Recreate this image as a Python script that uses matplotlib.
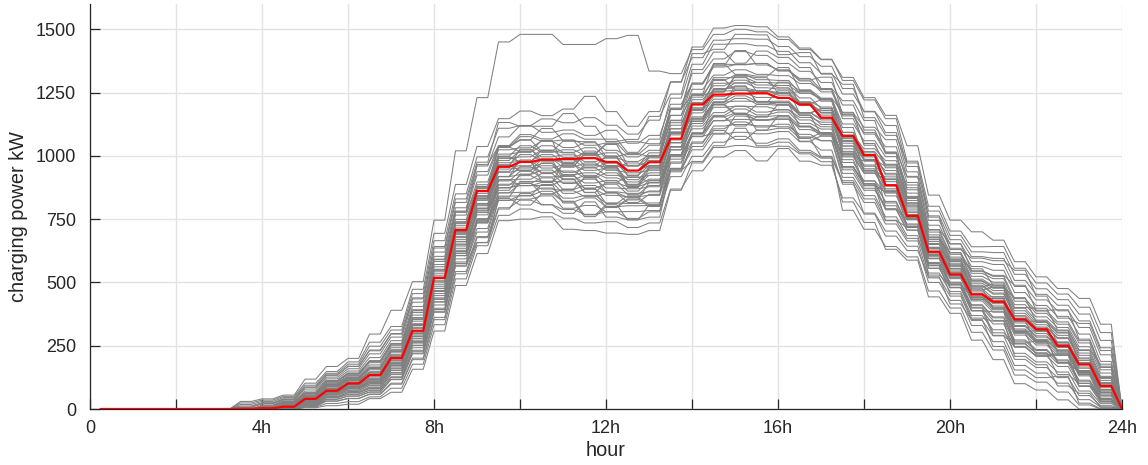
import numpy as np
import matplotlib
matplotlib.use("Agg")
import matplotlib.pyplot as plt

plt.rcParams['font.family'] = ['Liberation Sans', 'DejaVu Sans']

# half-hour slots 0:00 ... 23:30 (48 values each), charging power in kW
mean_kw = [0, 0, 0, 0, 0, 0, 0, 1, 3, 9, 40, 72, 101, 134, 201, 309, 518, 707, 861, 957,
           976, 985, 988, 991, 976, 942, 975, 1068, 1203, 1242, 1246, 1247, 1229, 1203, 1151, 1079,
           1003, 884, 763, 621, 532, 453, 424, 354, 315, 250, 176, 91]

scen_outlier = [0, 0, 0, 0, 0, 0, 0, 30, 40, 55, 118, 168, 200, 296, 390, 503, 746, 1020, 1230, 1450,
                1480, 1480, 1440, 1440, 1463, 1476, 1335, 1325, 1420, 1480, 1500, 1490, 1460, 1420, 1380, 1310,
                1230, 1160, 1040, 845, 746, 700, 667, 582, 522, 476, 437, 335]
scen01 = [0,0,0,0,0,0,0,24,35,50,102,148,186,264,326,473,694,887,1037,1147,1177,1159,1185,1235,1175,1117,1175,1293,1388,1457,1463,1461,1432,1392,1354,1266,1174,1092,937,763,669,602,595,508,453,410,348,242]
scen02 = [0,0,0,0,0,0,0,18,30,45,94,141,177,248,312,456,665,850,996,1109,1120,1146,1131,1151,1121,1086,1141,1291,1430,1505,1515,1510,1470,1426,1382,1298,1221,1147,979,801,703,641,642,556,498,454,402,302]
scen03 = [0,0,0,0,0,0,0,12,25,40,86,133,168,233,298,439,636,816,960,1075,1120,1093,1102,1081,1101,1050,1081,1204,1284,1351,1360,1365,1336,1296,1253,1158,1092,1036,895,726,635,563,548,460,409,366,296,188]
scen04 = [0,0,0,0,0,0,0,6,20,36,79,126,159,218,284,422,620,795,938,1041,1084,1067,1087,1066,1066,1014,1066,1228,1362,1441,1443,1435,1413,1368,1326,1244,1176,1120,958,782,686,621,618,532,475,432,375,271]
scen05 = [0,0,0,0,0,0,0,0,15,32,71,119,150,203,270,405,603,782,924,1033,1076,1058,1063,1042,1051,1005,1042,1160,1232,1309,1309,1290,1288,1258,1216,1093,1012,925,811,650,566,485,454,364,320,278,198,101]
scen06 = [0,0,0,0,0,0,0,0,10,27,64,112,141,188,256,388,583,766,897,1024,1032,1058,1033,1052,1022,996,1022,1189,1326,1383,1412,1397,1365,1334,1290,1201,1102,1009,874,707,617,544,524,436,387,344,270,164]
scen07 = [0,0,0,0,0,0,0,0,8,25,62,109,137,183,250,381,571,749,879,1007,1014,1040,1014,1032,992,978,1002,1131,1206,1261,1288,1269,1264,1214,1193,1082,1028,981,853,688,600,524,501,412,364,322,246,142]
scen08 = [0,0,0,0,0,0,0,0,5,22,58,104,132,174,242,371,562,740,870,999,1040,1014,1024,1002,1012,960,1012,1160,1284,1362,1361,1365,1336,1306,1262,1147,1049,953,832,669,583,505,477,388,342,300,221,121]
scen09 = [0,0,0,0,0,0,0,0,2,20,54,100,127,166,234,361,550,732,861,990,996,1023,994,1012,972,960,982,1107,1180,1234,1258,1248,1230,1200,1161,1050,959,870,769,613,532,447,407,316,275,234,152,68]
scen10 = [0,0,0,0,0,0,0,0,0,18,51,97,123,160,228,354,542,724,852,982,1023,996,1004,977,992,942,992,1141,1263,1319,1340,1322,1317,1286,1262,1169,1113,1064,916,745,652,582,571,484,431,388,322,214]
scen11 = [0,0,0,0,0,0,0,0,0,16,49,94,119,155,222,347,534,715,843,973,979,1005,975,992,962,942,962,1121,1242,1298,1319,1301,1298,1248,1225,1093,1002,898,790,632,549,466,430,340,298,256,175,84]
scen12 = [0,0,0,0,0,0,0,0,0,14,45,90,114,147,214,337,526,707,834,965,1005,979,984,953,972,924,962,1083,1154,1213,1237,1215,1216,1171,1147,1039,986,942,824,662,576,497,468,378,333,291,212,113]
scen13 = [0,0,0,0,0,0,0,0,0,12,43,87,110,142,208,330,517,698,825,956,961,988,955,972,943,933,943,1107,1222,1277,1299,1280,1278,1248,1225,1126,1060,997,866,699,611,536,515,426,378,335,261,155]
scen14 = [0,0,0,0,0,0,0,0,0,9,40,82,105,134,200,320,505,690,825,939,979,952,965,943,952,906,952,1092,1190,1266,1268,1258,1240,1210,1170,1039,943,842,748,594,515,427,383,292,253,212,131,54]
scen15 = [0,0,0,0,0,0,0,0,0,8,39,81,103,132,197,317,501,682,807,948,952,970,935,953,923,915,923,1053,1128,1192,1196,1194,1182,1152,1133,1018,964,909,798,639,556,474,439,350,306,265,184,91]
scen16 = [0,0,0,0,0,0,0,0,0,6,36,78,100,127,192,310,493,677,803,935,944,961,926,933,913,897,933,1092,1211,1287,1288,1290,1269,1229,1188,1072,986,886,782,624,542,458,421,330,289,247,166,77]
scen17 = [0,0,0,0,0,0,0,0,0,4,34,75,96,122,186,303,485,669,812,918,957,935,940,913,933,888,923,1068,1170,1224,1247,1231,1230,1200,1179,1077,1017,964,840,677,590,513,486,398,351,309,231,129]
scen18 = [0,0,0,0,0,0,0,0,0,3,32,72,92,117,180,296,476,661,785,918,926,944,906,923,893,879,893,1024,1107,1160,1185,1162,1173,1128,1106,974,901,814,727,575,498,408,360,268,231,190,110,41]
scen19 = [0,0,0,0,0,0,0,0,0,1,30,69,89,112,175,289,468,652,794,901,939,917,921,893,903,861,903,1063,1180,1256,1258,1258,1250,1210,1170,1061,996,931,815,654,570,489,458,369,324,282,202,105]
scen20 = [0,0,0,0,0,0,0,0,0,0,29,68,87,110,172,286,464,644,767,905,908,930,891,908,873,870,878,1034,1149,1203,1227,1205,1211,1162,1124,985,890,787,706,556,481,388,336,244,209,168,90,30]
scen21 = [0,0,0,0,0,0,0,0,0,0,27,65,83,105,166,279,456,635,776,884,922,900,896,873,888,848,883,1005,1076,1139,1144,1141,1144,1114,1078,953,901,853,756,601,522,435,392,302,262,221,139,59]
scen22 = [0,0,0,0,0,0,0,0,0,0,25,62,80,100,161,272,448,627,749,888,891,913,867,883,858,852,858,1024,1138,1213,1216,1215,1202,1171,1142,1028,949,881,777,620,539,454,416,326,284,243,161,74]
scen23 = [0,0,0,0,0,0,0,0,0,0,23,58,74,94,152,262,435,614,735,875,882,895,852,868,844,839,844,976,1055,1107,1134,1114,1125,1075,1060,915,843,759,685,537,464,369,313,220,186,146,71,21]
scen24 = [0,0,0,0,0,0,0,0,0,0,20,54,69,87,144,252,423,606,744,854,891,869,862,839,853,816,848,1005,1118,1171,1196,1173,1182,1142,1115,996,933,864,765,609,528,443,402,311,271,230,148,65]
scen25 = [0,0,0,0,0,0,0,0,0,0,18,49,64,81,136,242,411,593,713,854,856,873,833,844,814,812,814,947,1024,1086,1093,1087,1096,1056,1023,888,816,731,664,518,446,350,289,196,164,124,53,13]
scen26 = [0,0,0,0,0,0,0,0,0,0,16,45,58,75,127,232,398,581,699,841,842,860,818,834,799,803,804,971,1086,1139,1165,1141,1154,1104,1087,958,890,820,731,579,501,412,364,273,235,194,114,43]
scen27 = [0,0,0,0,0,0,0,0,0,0,13,39,51,67,116,218,382,564,681,824,829,842,793,804,779,780,784,918,998,1054,1077,1050,1067,1022,995,785,710,642,601,466,399,303,233,134,106,67,16,0]
scen28 = [0,0,0,0,0,0,0,0,0,0,10,32,42,59,102,201,362,543,677,795,825,807,788,769,779,753,779,937,1050,1118,1124,1119,1115,1085,1060,931,864,803,719,567,491,400,350,258,222,181,102,36]
scen29 = [0,0,0,0,0,0,0,0,0,0,7,22,29,48,82,177,333,514,645,765,790,776,754,735,740,717,735,869,941,996,1021,980,1029,979,963,834,774,703,643,500,429,330,266,172,142,102,37,8]
scen30 = [0,0,0,0,0,0,0,0,0,0,5,13,19,41,66,157,308,488,614,744,750,759,710,705,695,690,705,864,972,1033,1041,1034,1038,1008,977,818,737,631,588,443,378,272,195,100,75,36,0,0]
scen31 = [0,0,0,0,0,0,0,0,0,2,36,76,96,119,183,298,477,661,839,919,984,896,970,918,957,884,908,1000,1091,1155,1118,1156,1159,1071,1092,958,885,858,761,569,527,440,444,307,267,182,144,64]
scen32 = [0,0,0,0,0,0,0,0,2,20,48,94,121,160,228,355,548,734,873,1035,1017,1061,959,1006,1045,963,996,1183,1288,1356,1416,1359,1340,1300,1311,1163,1086,1014,834,671,618,507,480,440,345,303,178,123]
scen33 = [0,0,0,0,0,0,0,0,0,0,30,64,81,100,158,267,439,622,752,837,899,899,924,871,812,842,861,1003,1146,1211,1276,1213,1210,1170,1187,1015,941,917,806,609,564,482,494,358,314,229,192,99]
scen34 = [0,0,0,0,0,0,0,0,12,29,64,111,142,191,259,392,592,779,966,1038,1064,1108,1060,1009,1048,1056,1048,1186,1239,1253,1316,1309,1247,1255,1222,1112,983,906,753,636,519,432,436,299,214,218,136,31]
scen35 = [0,0,0,0,0,0,0,0,0,0,17,45,58,74,125,228,393,575,657,832,806,850,821,767,807,747,807,950,1037,1100,1065,1101,1109,1069,998,902,830,745,717,529,490,399,301,257,220,136,101,37]
scen36 = [0,0,0,0,0,0,0,0,0,11,38,81,105,135,202,323,509,694,830,995,975,931,961,1008,948,875,948,1088,1186,1252,1315,1254,1246,1206,1221,1057,982,960,836,635,586,470,482,346,347,261,180,125]
scen37 = [0,0,0,0,0,0,0,8,22,38,87,135,169,230,296,435,642,830,975,1132,1117,1117,1167,1117,1057,1065,1156,1244,1404,1421,1480,1478,1400,1408,1323,1283,1151,1081,972,758,630,596,586,548,446,359,338,231]
scen38 = [0,0,0,0,0,0,0,0,0,2,24,64,84,107,171,286,465,649,782,864,928,972,909,856,896,917,896,1037,1183,1302,1261,1251,1291,1203,1172,1000,979,791,707,594,480,389,291,247,210,214,91,27]
scen39 = [0,0,0,0,0,0,0,0,0,0,13,31,41,58,98,195,353,534,658,790,851,807,773,818,758,748,758,951,1090,1154,1169,1102,1158,1118,1091,957,884,857,802,605,526,478,396,306,310,225,143,95]
scen40 = [0,0,0,0,0,0,0,0,2,20,52,98,125,164,232,359,552,738,832,997,977,1021,1012,960,1000,922,1000,1139,1136,1201,1163,1203,1200,1160,1085,1005,931,907,754,637,554,433,437,348,260,263,137,89]
scen41 = [0,0,0,0,0,0,0,0,0,0,24,58,75,94,152,261,433,616,791,873,893,849,869,915,855,836,806,997,1088,1205,1167,1153,1204,1116,1089,1009,882,744,674,566,455,359,347,208,175,91,62,7]
scen42 = [0,0,0,0,0,0,0,0,12,29,62,109,140,189,257,390,590,777,874,1036,1062,1018,1058,1056,997,1009,997,1184,1341,1410,1366,1414,1389,1349,1266,1218,1140,1015,919,709,653,546,528,489,390,392,276,169]
scen43 = [0,0,0,0,0,0,0,0,0,11,49,92,116,146,213,334,520,705,886,963,942,986,972,1019,959,886,959,1051,1145,1263,1275,1212,1257,1169,1186,1068,940,860,721,608,494,442,399,261,269,184,146,41]
scen44 = [0,0,0,0,0,0,0,0,0,0,10,38,51,67,118,221,386,568,740,825,843,887,814,760,800,830,800,943,978,1040,1109,1040,1054,1014,991,895,770,683,626,522,415,353,247,154,124,129,23,1]
scen45 = [0,0,0,0,0,0,0,0,0,11,45,88,112,142,209,330,516,701,792,959,1026,982,919,965,955,972,955,1095,1245,1365,1322,1315,1349,1261,1228,1172,1042,967,885,680,593,554,489,401,398,312,234,177]
scen46 = [0,0,0,0,0,0,0,0,0,0,14,48,65,84,142,251,423,606,736,906,883,883,908,855,796,826,895,987,1078,1089,1157,1143,1146,1058,1079,945,872,790,748,556,479,388,384,246,209,213,90,51]

x_ticks = [0, 2, 4, 6, 8, 10, 12, 14, 16, 18, 20, 22, 24]
x_tick_labels = ['0', '', '4h', '', '8h', '', '12h', '', '16h', '', '20h', '', '24h']
y_ticks = [0, 250, 500, 750, 1000, 1250, 1500]

scenarios = [scen_outlier, scen01, scen02, scen03, scen04, scen05, scen06, scen07, scen08, scen09, scen10,
             scen11, scen12, scen13, scen14, scen15, scen16, scen17, scen18, scen19, scen20,
             scen21, scen22, scen23, scen24, scen25, scen26, scen27, scen28, scen29, scen30,
             scen31, scen32, scen33, scen34, scen35, scen36, scen37, scen38, scen39, scen40,
             scen41, scen42, scen43, scen44, scen45, scen46]
for s in scenarios:
    assert len(s) == 48, len(s)
assert len(mean_kw) == 48

# each half-hour value is held for 15 min, then ramps to the next; profile ends at 0 at 24h
t = 0.25 * np.arange(1, 97)


def profile(vals):
    v = np.repeat(np.asarray(vals, dtype=float), 2)[1:]
    return np.append(v, 0.0)


W, H = 1148, 465
fig = plt.figure(figsize=(W / 100, H / 100), dpi=100)
ax = fig.add_axes([90 / W, 56 / H, 1032 / W, 405 / H])

txt = '#262626'
for s in scenarios:
    ax.plot(t, profile(s), color='#808080', lw=0.75, zorder=2)
ax.plot(t, profile(mean_kw), color='#ff0000', lw=1.6, zorder=3)

ax.set_xlim(0, 24)
ax.set_ylim(0, 1600)
ax.set_xticks(x_ticks)
ax.set_xticklabels(x_tick_labels)
ax.set_yticks(y_ticks)
ax.grid(True, color='#e3e3e3', lw=1.0, zorder=0)
ax.set_axisbelow(True)
for side in ('top', 'right'):
    ax.spines[side].set_visible(False)
for side in ('left', 'bottom'):
    ax.spines[side].set_color('#262626')
    ax.spines[side].set_linewidth(0.9)
ax.tick_params(axis='both', direction='in', length=7, width=0.9, color='#262626',
               labelsize=13, labelcolor=txt)
ax.tick_params(axis='y', pad=10)
ax.tick_params(axis='x', pad=8)
ax.set_xlabel('hour', fontsize=14.3, color=txt)
ax.set_ylabel('charging power kW', fontsize=14.3, color=txt)
ax.xaxis.set_label_coords(0.5, (409 - 441) / 405.3)
ax.yaxis.set_label_coords((28 - 90) / 1032, (409 - 216) / 405.3)

fig.savefig('out.png', dpi=100)
